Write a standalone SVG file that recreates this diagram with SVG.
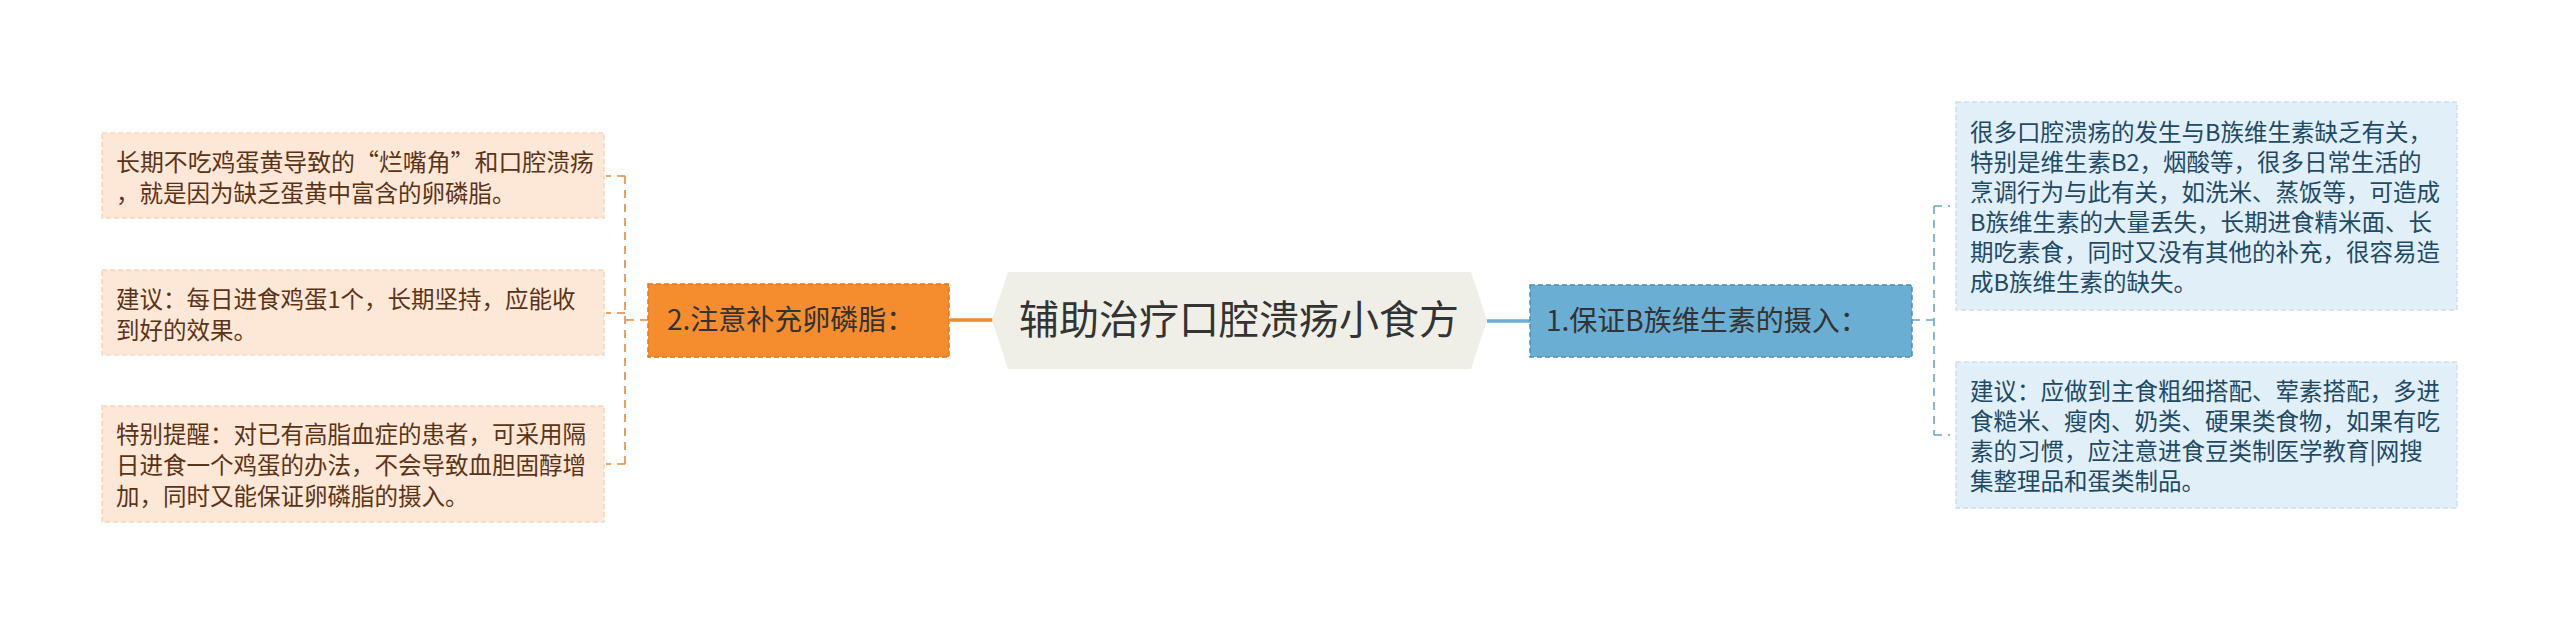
<svg xmlns="http://www.w3.org/2000/svg" width="2560" height="625" viewBox="0 0 2560 625">
<style>
text{font-family:"Noto Sans CJK SC","Noto Sans",sans-serif;}
.leaf-l rect{fill:#fde7d6;stroke:#f8d7bd;stroke-width:1.5;stroke-dasharray:5 3;}
.leaf-l text{fill:#5b3417;font-size:23.5px;}
.leaf-r rect{fill:#e0eff8;stroke:#cbe0ee;stroke-width:1.5;stroke-dasharray:5 3;}
.leaf-r text{fill:#1f4a66;font-size:23.5px;}
.sub text{fill:#333;font-size:28px;}
.bl{fill:none;stroke:#e8873a;stroke-width:1.6;stroke-dasharray:8 6;}
.br{fill:none;stroke:#6aa6c8;stroke-width:1.6;stroke-dasharray:8 6;}
</style>
<rect width="2560" height="625" fill="#ffffff"/>
<g id="connectors">
<line x1="950" y1="320" x2="995" y2="320" stroke="#f08a30" stroke-width="3.5"/>
<line x1="1487" y1="321" x2="1530" y2="321" stroke="#6aaed3" stroke-width="3.5"/>
<path class="bl" d="M648 320H625M625 176V464M625 176H606M625 313H606M625 464H606"/>
<path class="br" d="M1912 320H1934M1934 206V435M1934 206H1950M1934 435H1950"/>
</g>
<g id="center">
<polygon points="1008,272 1471,272 1487,320 1471,369 1008,369 992,320" fill="#efefe7"/>
<text x="1239" y="334" font-size="40" fill="#333" text-anchor="middle">辅助治疗口腔溃疡小食方</text>
</g>
<g id="node-2" class="sub">
<rect x="648" y="284" width="301" height="73" fill="#f58c2e" stroke="#e3741b" stroke-width="1.5" stroke-dasharray="5 3"/>
<text x="667" y="330">2.注意补充卵磷脂：</text>
</g>
<g id="node-1" class="sub">
<rect x="1530" y="285" width="382" height="72" fill="#6aaed3" stroke="#4e8fb5" stroke-width="1.5" stroke-dasharray="5 3"/>
<text x="1546" y="331">1.保证B族维生素的摄入：</text>
</g>
<g id="leaf-2a" class="leaf-l">
<rect x="102" y="133" width="502" height="85"/>
<text x="116" y="171" textLength="478" lengthAdjust="spacingAndGlyphs">长期不吃鸡蛋黄导致的“烂嘴角”和口腔溃疡</text>
<text x="116" y="202">，就是因为缺乏蛋黄中富含的卵磷脂。</text>
</g>
<g id="leaf-2b" class="leaf-l">
<rect x="102" y="270" width="502" height="85"/>
<text x="116" y="308">建议：每日进食鸡蛋1个，长期坚持，应能收</text>
<text x="116" y="339">到好的效果。</text>
</g>
<g id="leaf-2c" class="leaf-l">
<rect x="102" y="406" width="502" height="116"/>
<text x="116" y="443">特别提醒：对已有高脂血症的患者，可采用隔</text>
<text x="116" y="474">日进食一个鸡蛋的办法，不会导致血胆固醇增</text>
<text x="116" y="505">加，同时又能保证卵磷脂的摄入。</text>
</g>
<g id="leaf-1a" class="leaf-r">
<rect x="1956" y="102" width="501" height="208"/>
<text x="1970" y="141">很多口腔溃疡的发生与B族维生素缺乏有关，</text>
<text x="1970" y="171">特别是维生素B2，烟酸等，很多日常生活的</text>
<text x="1970" y="201">烹调行为与此有关，如洗米、蒸饭等，可造成</text>
<text x="1970" y="231">B族维生素的大量丢失，长期进食精米面、长</text>
<text x="1970" y="261">期吃素食，同时又没有其他的补充，很容易造</text>
<text x="1970" y="291">成B族维生素的缺失。</text>
</g>
<g id="leaf-1b" class="leaf-r">
<rect x="1956" y="362" width="501" height="146"/>
<text x="1970" y="400">建议：应做到主食粗细搭配、荤素搭配，多进</text>
<text x="1970" y="430">食糙米、瘦肉、奶类、硬果类食物，如果有吃</text>
<text x="1970" y="460">素的习惯，应注意进食豆类制医学教育|网搜</text>
<text x="1970" y="490">集整理品和蛋类制品。</text>
</g>
</svg>
